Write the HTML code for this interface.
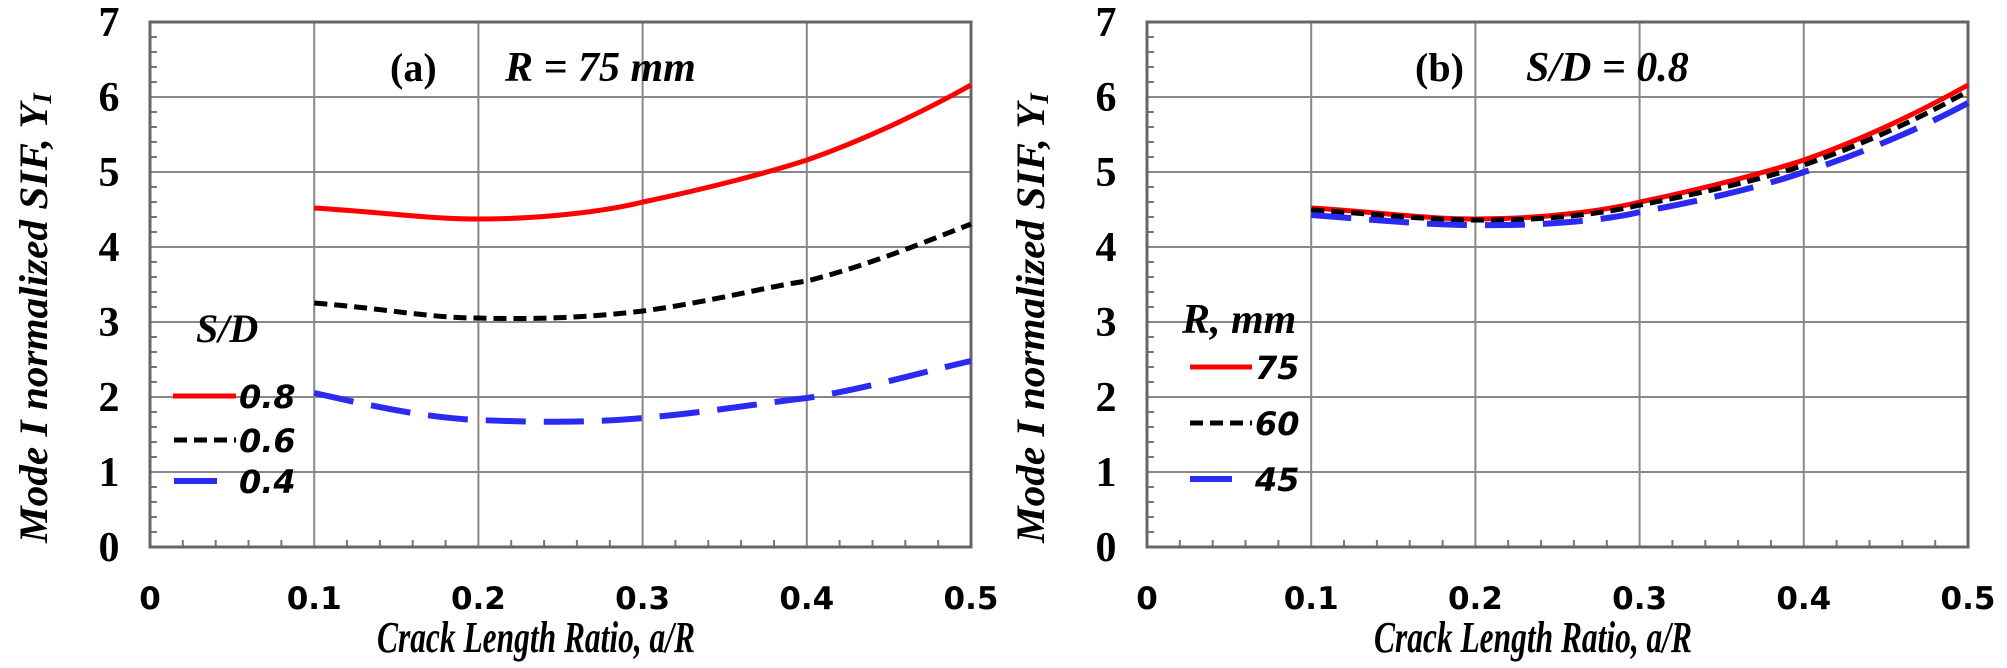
<!DOCTYPE html>
<html><head><meta charset="utf-8"><style>
html,body{margin:0;padding:0;background:#fff;width:2007px;height:668px;overflow:hidden}
</style></head><body>
<svg width="2007" height="668" viewBox="0 0 2007 668" xmlns="http://www.w3.org/2000/svg">
<defs>
<g id="frame">
  <g stroke="#888" stroke-width="2" fill="none">
    <line x1="0" y1="97" x2="821" y2="97"/><line x1="0" y1="172" x2="821" y2="172"/>
    <line x1="0" y1="247" x2="821" y2="247"/><line x1="0" y1="322" x2="821" y2="322"/>
    <line x1="0" y1="397" x2="821" y2="397"/><line x1="0" y1="472" x2="821" y2="472"/>
    <line x1="164.2" y1="22" x2="164.2" y2="547"/><line x1="328.4" y1="22" x2="328.4" y2="547"/>
    <line x1="492.6" y1="22" x2="492.6" y2="547"/><line x1="656.8" y1="22" x2="656.8" y2="547"/>
  </g>
  <g stroke="#777" stroke-width="2">
    <path d="M0 37h7M0 52h7M0 67h7M0 82h7M0 112h7M0 127h7M0 142h7M0 157h7M0 187h7M0 202h7M0 217h7M0 232h7M0 262h7M0 277h7M0 292h7M0 307h7M0 337h7M0 352h7M0 367h7M0 382h7M0 412h7M0 427h7M0 442h7M0 457h7M0 487h7M0 502h7M0 517h7M0 532h7"/>
    <path d="M32.8 547v-7M65.7 547v-7M98.5 547v-7M131.4 547v-7M197 547v-7M229.9 547v-7M262.7 547v-7M295.6 547v-7M361.2 547v-7M394.1 547v-7M426.9 547v-7M459.8 547v-7M525.4 547v-7M558.3 547v-7M591.1 547v-7M624 547v-7M689.6 547v-7M722.5 547v-7M755.3 547v-7M788.2 547v-7"/>
  </g>
  <rect x="0" y="22" width="821" height="525" fill="none" stroke="#666" stroke-width="3"/>
  <g font-family="Liberation Serif, serif" font-weight="bold" font-size="42" text-anchor="middle">
    <text x="-41" y="36">7</text><text x="-41" y="111">6</text><text x="-41" y="186">5</text>
    <text x="-41" y="261">4</text><text x="-41" y="336">3</text><text x="-41" y="411">2</text>
    <text x="-41" y="486">1</text><text x="-41" y="561">0</text>
  </g>
  <g font-family="DejaVu Sans, sans-serif" font-weight="bold" font-size="31" text-anchor="middle">
    <text x="0" y="609">0</text><text x="164.2" y="609">0.1</text><text x="328.4" y="609">0.2</text>
    <text x="492.6" y="609">0.3</text><text x="656.8" y="609">0.4</text><text x="821" y="609">0.5</text>
  </g>
  <text x="386" y="652" font-family="Liberation Serif, serif" font-style="italic" font-weight="bold" font-size="44" text-anchor="middle" textLength="318" lengthAdjust="spacingAndGlyphs">Crack Length Ratio, a/R</text>
  <text transform="translate(-103,318) rotate(-90)" font-family="Liberation Serif, serif" font-style="italic" font-weight="bold" font-size="40" text-anchor="middle" textLength="450" lengthAdjust="spacingAndGlyphs">Mode I normalized SIF, Y<tspan font-size="26" dy="4">I</tspan></text>
</g>
</defs>

<!-- Panel (a) -->
<g transform="translate(150,0)">
  <use href="#frame"/>
  <path d="M164.2 208 C230 212 280 219 328 219 C400 219 460 210 493 202 C560 188 620 172 657 160 C720 138 780 108 821 85" fill="none" stroke="#f00" stroke-width="5"/>
  <path d="M164.2 303 C230 308 280 318 328 318 C400 320 450 316 493 311 C560 302 620 286 657 281 C720 265 780 240 821 224" fill="none" stroke="#000" stroke-width="5" stroke-dasharray="13,7"/>
  <path d="M164.2 393 C230 408 280 418 328 420 C400 423 450 422 493 418 C560 412 620 402 657 398 C720 388 780 370 821 361" fill="none" stroke="#2a2af0" stroke-width="6" stroke-dasharray="40,18"/>
  <text x="240" y="81" font-family="Liberation Serif, serif" font-weight="bold" font-size="40">(a)</text>
  <text x="355" y="81" font-family="Liberation Serif, serif" font-weight="bold" font-style="italic" font-size="42">R = 75 mm</text>
  <text x="46" y="342" font-family="Liberation Serif, serif" font-weight="bold" font-style="italic" font-size="40">S/D</text>
  <line x1="23" y1="396" x2="86" y2="396" stroke="#f00" stroke-width="5"/>
  <line x1="24" y1="440" x2="86" y2="440" stroke="#000" stroke-width="5" stroke-dasharray="13,7"/>
  <line x1="24" y1="481" x2="67" y2="481" stroke="#2a2af0" stroke-width="6"/>
  <g font-family="DejaVu Sans, sans-serif" font-weight="bold" font-style="italic" font-size="32">
    <text x="89" y="408">0.8</text><text x="89" y="452">0.6</text><text x="89" y="493">0.4</text>
  </g>
</g>

<!-- Panel (b) -->
<g transform="translate(1147,0)">
  <use href="#frame"/>
  <path d="M164.2 208 C230 212 280 219 328 219 C400 219 460 210 493 202 C560 188 620 172 657 160 C720 138 780 108 821 85" fill="none" stroke="#f00" stroke-width="5"/>
  <path d="M164.2 210 C230 214 280 220 328 220 C400 221 460 213 493 205 C560 192 620 178 657 165 C720 143 780 115 821 91" fill="none" stroke="#000" stroke-width="5" stroke-dasharray="13,7"/>
  <path d="M164.2 215 C230 220 280 225 328 225 C400 226 460 220 493 212 C560 200 620 185 657 172 C720 152 780 125 821 103" fill="none" stroke="#2a2af0" stroke-width="6" stroke-dasharray="40,18"/>
  <text x="268" y="81" font-family="Liberation Serif, serif" font-weight="bold" font-size="40">(b)</text>
  <text x="379" y="81" font-family="Liberation Serif, serif" font-weight="bold" font-style="italic" font-size="42">S/D = 0.8</text>
  <text x="35" y="333" font-family="Liberation Serif, serif" font-weight="bold" font-style="italic" font-size="42">R, mm</text>
  <line x1="43" y1="367" x2="105" y2="367" stroke="#f00" stroke-width="5"/>
  <line x1="43" y1="423" x2="105" y2="423" stroke="#000" stroke-width="5" stroke-dasharray="13,7"/>
  <line x1="43" y1="479" x2="85" y2="479" stroke="#2a2af0" stroke-width="6"/>
  <g font-family="DejaVu Sans, sans-serif" font-weight="bold" font-style="italic" font-size="32">
    <text x="108" y="379">75</text><text x="108" y="435">60</text><text x="108" y="491">45</text>
  </g>
</g>
</svg>
</body></html>
